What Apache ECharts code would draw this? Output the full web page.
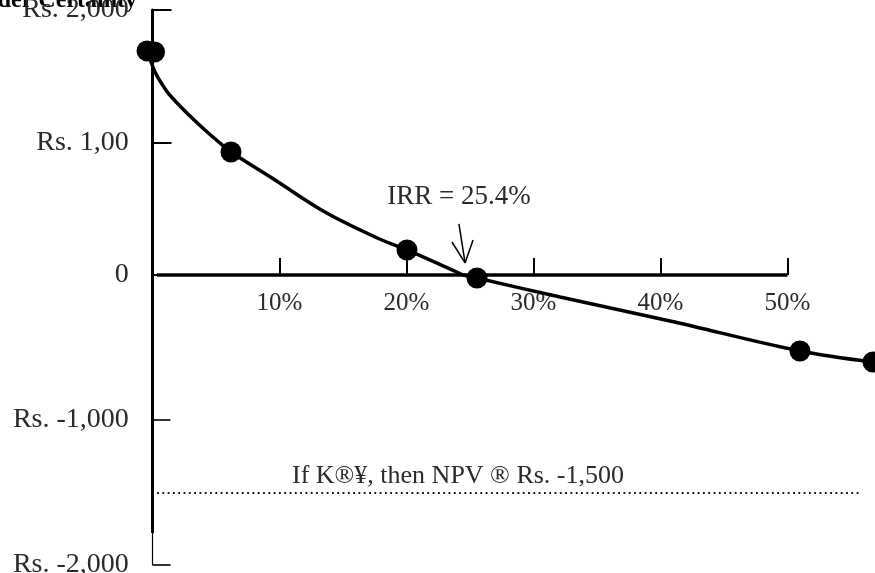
<!DOCTYPE html>
<html>
<head>
<meta charset="utf-8">
<script src="https://cdn.jsdelivr.net/npm/echarts@6/dist/echarts.min.js"></script>
<style>
html,body{margin:0;padding:0;background:#fff;}
#chart{width:875px;height:573px;}
</style>
</head>
<body>
<div id="chart"></div>
<script>
// ---- data ----
const xTickValues = [10, 20, 30, 40, 50];
const xTickLabels = ['10%', '20%', '30%', '40%', '50%'];
const yTickValues = [2000, 1000, 0, -1000, -2000];
const yTickLabels = ['Rs. 2,000', 'Rs. 1,00', '0', 'Rs. -1,000', 'Rs. -2,000'];

// NPV profile curve (discount rate %, NPV Rs.)
const curveRateUpper = [-0.43, -0.12, 0.2, 0.59, 1.22, 2.01, 2.95, 4.13, 5.31, 6.18, 9.65, 13.58, 17.52, 20.04, 24.45];
const curveNpvUpper  = [1691, 1608, 1532, 1464, 1374, 1291, 1200, 1094, 996, 928, 717, 475, 287, 189, 0];
const curveRateLower = [24.45, 25.55, 32.09, 40.75, 50.98, 56.73];
const curveNpvLower  = [0, -21, -152, -317, -524, -600];

// plotted points
const dotRate = [-0.43, 0.16, 6.18, 20.04, 25.55, 50.98, 56.73];
const dotNpv  = [1691, 1683, 928, 189, -21, -524, -600];

const irrValue = 25.4;
const limitNpv = -1500;
const titleText = 'NPV Profile Under Certainty';

// ---- build ----
const FONT = "'Liberation Serif', 'Times New Roman', serif";
const TXT = '#2a2a2a';
const pair = (xs, ys) => xs.map((x, i) => [x, ys[i]]);
const upperDots = pair(dotRate, dotNpv).filter(p => p[1] >= 0);
const lowerDots = pair(dotRate, dotNpv).filter(p => p[1] < 0);
const yLabel = v => { const i = yTickValues.indexOf(v); return i >= 0 ? yTickLabels[i] : ''; };
const xLabel = v => { const i = xTickValues.indexOf(v); return i >= 0 ? xTickLabels[i] : ''; };

const ml = (a, b, style) => [{coord: a, lineStyle: style}, {coord: b, lineStyle: style}];

const chart = echarts.init(document.getElementById('chart'), null, {renderer: 'canvas'});
const xCommon = {type: 'value', min: -1, max: 57, splitLine: {show: false}};
chart.setOption({
  animation: false,
  backgroundColor: '#fff',
  grid: [
    {left: 139.8, width: 736.6, top: 10, height: 265, containLabel: false, outerBoundsMode: 'none'},
    {left: 139.8, width: 736.6, top: 275, height: 290, containLabel: false, outerBoundsMode: 'none'}
  ],
  xAxis: [
    Object.assign({}, xCommon, {
      gridIndex: 0,
      axisLine: {show: false, onZero: true},
      axisTick: {show: true, inside: true, length: 17, customValues: xTickValues, lineStyle: {color: '#000', width: 2}},
      axisLabel: {show: true, margin: 16, customValues: xTickValues, formatter: xLabel,
        color: TXT, fontFamily: FONT, fontSize: 25}
    }),
    Object.assign({}, xCommon, {gridIndex: 1, show: false})
  ],
  yAxis: [
    {type: 'value', gridIndex: 0, min: 0, max: 2000, interval: 1000, splitLine: {show: false},
      axisLine: {show: true, onZero: true, lineStyle: {color: '#000', width: 3}},
      axisTick: {show: true, inside: true, length: 19, lineStyle: {color: '#000', width: 2}},
      axisLabel: {margin: 11, formatter: yLabel, color: TXT, fontFamily: FONT, fontSize: 28}
    },
    {type: 'value', gridIndex: 1, min: -2000, max: 0, interval: 1000, splitLine: {show: false},
      axisLine: {show: false, onZero: true},
      axisTick: {show: true, inside: true, length: 18, lineStyle: {color: '#000', width: 1.6}},
      axisLabel: {margin: 11, formatter: v => (v === 0 ? '' : yLabel(v)), color: TXT, fontFamily: FONT, fontSize: 28}
    }
  ],
  series: [
    {
      type: 'line', xAxisIndex: 0, yAxisIndex: 0, data: pair(curveRateUpper, curveNpvUpper),
      smooth: 0.35, showSymbol: false, symbol: 'none', clip: false,
      lineStyle: {color: '#000', width: 3.5},
      markLine: {
        silent: true, symbol: ['none', 'none'], label: {show: false}, animation: false,
        data: [
          ml([0.35, 0], [50, 0], {color: '#000', width: 3.5, type: 'solid'}),
          ml([24.13, 385], [24.61, 91], {color: '#000', width: 1.5, type: 'solid'}),
          ml([23.58, 249], [24.61, 91], {color: '#000', width: 1.5, type: 'solid'}),
          ml([25.24, 264], [24.61, 91], {color: '#000', width: 1.5, type: 'solid'})
        ]
      }
    },
    {
      type: 'scatter', xAxisIndex: 0, yAxisIndex: 0, data: upperDots, clip: false,
      symbol: 'circle', symbolSize: 21, itemStyle: {color: '#000', opacity: 1}
    },
    {
      type: 'line', xAxisIndex: 1, yAxisIndex: 1, data: pair(curveRateLower, curveNpvLower),
      smooth: 0.35, showSymbol: false, symbol: 'none', clip: false,
      lineStyle: {color: '#000', width: 3.5},
      markLine: {
        silent: true, symbol: ['none', 'none'], label: {show: false}, animation: false,
        data: [
          ml([0, 0], [0, -1779], {color: '#000', width: 3, type: 'solid'}),
          ml([0, -1779], [0, -2000], {color: '#000', width: 1.2, type: 'solid'}),
          ml([0.36, limitNpv], [55.7, limitNpv], {color: '#111', width: 1.8, type: [1.8, 3.5]})
        ]
      }
    },
    {
      type: 'scatter', xAxisIndex: 1, yAxisIndex: 1, data: lowerDots, clip: false,
      symbol: 'circle', symbolSize: 21, itemStyle: {color: '#000', opacity: 1}
    }
  ],
  graphic: [
    {type: 'text', x: 137, y: 13, silent: true,
      style: {text: titleText, font: "bold 24px " + FONT, fill: '#000', align: 'right', verticalAlign: 'bottom'}},
    {type: 'text', x: 459, y: 197, silent: true,
      style: {text: 'IRR = ' + irrValue + '%', font: "27px " + FONT, fill: TXT, align: 'center', verticalAlign: 'middle'}},
    {type: 'text', x: 292, y: 476, silent: true,
      style: {text: 'If K\u00AE\u00A5, then NPV \u00AE Rs. -1,500', font: "26px " + FONT, fill: TXT, align: 'left', verticalAlign: 'middle'}}
  ]
});
</script>
</body>
</html>
